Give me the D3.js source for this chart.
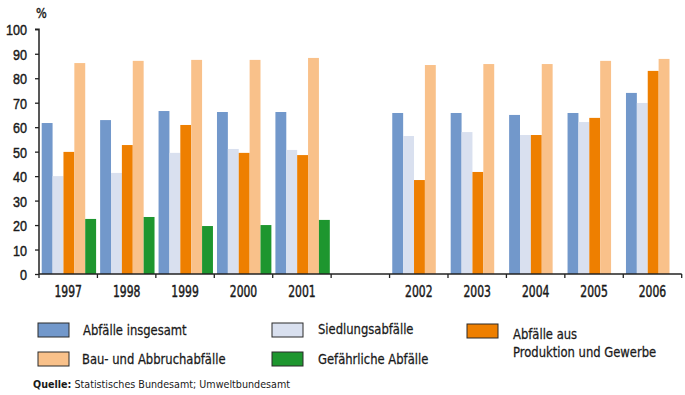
<!DOCTYPE html>
<html>
<head>
<meta charset="utf-8">
<script src="https://cdn.jsdelivr.net/npm/d3@7"></script>
<style>
  html, body { margin: 0; padding: 0; background: #fff; }
  svg { display: block; font-family: "Liberation Sans Narrow", "DejaVu Sans Condensed", "Roboto Condensed", sans-serif; }
</style>
</head>
<body>
<svg id="chart" width="685" height="395"></svg>
<script>
// Verwertungsquoten nach Abfallart, in Prozent
const years = ["1997", "1998", "1999", "2000", "2001", "2002", "2003", "2004", "2005", "2006"];
const slots = ["1997", "1998", "1999", "2000", "2001", "gap", "2002", "2003", "2004", "2005", "2006"];
const seriesNames = ["Abfälle insgesamt", "Siedlungsabfälle", "Abfälle aus Produktion und Gewerbe", "Bau- und Abbruchabfälle", "Gefährliche Abfälle"];
const seriesColors = ["#7298cb", "#d9e0ef", "#ee7f00", "#f9c18a", "#1e962f"];

const insgesamt   = [61.7, 62.9, 66.6, 66.2, 66.2, 65.8, 65.8, 65.0, 65.8, 74.0];
const siedlung    = [40.0, 41.3, 49.5, 51.1, 50.7, 56.4, 58.0, 56.8, 62.1, 69.9];
const produktion  = [49.9, 52.7, 60.9, 49.5, 48.6, 38.4, 41.7, 56.8, 63.8, 83.0];
const bau         = [86.2, 87.1, 87.5, 87.5, 88.3, 85.4, 85.8, 85.8, 87.1, 87.9];
const gefaehrlich = [22.5, 23.3, 19.6, 20.0, 22.1, null, null, null, null, null];
const seriesValues = [insgesamt, siedlung, produktion, bau, gefaehrlich];

const yTicks = [0, 10, 20, 30, 40, 50, 60, 70, 80, 90, 100];

const svg = d3.select("#chart");
const textColor = "#1a1a1a";
const axisColor = "#222";

// narrow text: horizontally compressed real text
function label(g, x, y, str, opt = {}) {
  const t = g.append("text")
    .attr("transform", `translate(${x},${y}) scale(${opt.sx || 1},1)`)
    .attr("fill", textColor)
    .attr("font-size", opt.size || 14)
    .attr("text-anchor", opt.anchor || "start");
  if (opt.heavy) t.attr("stroke", textColor).attr("stroke-width", opt.heavy);
  if (str != null) t.text(str);
  return t;
}

const x = d3.scaleBand().domain(slots).range([39, 681.7]).padding(0);
const inner = d3.scaleBand().domain(d3.range(seriesNames.length))
  .range([2.7, 57.1]).padding(0);
const y = d3.scaleLinear().domain([0, 100]).range([274, 29.3]);

// bars
const bars = [];
seriesValues.forEach((vals, si) => {
  vals.forEach((v, yi) => {
    if (v != null) bars.push({ year: years[yi], s: si, v });
  });
});
svg.append("g").selectAll("rect").data(bars).join("rect")
  .attr("x", d => x(d.year) + inner(d.s))
  .attr("width", inner.bandwidth())
  .attr("y", d => y(d.v))
  .attr("height", d => y(0) - y(d.v))
  .attr("fill", d => seriesColors[d.s]);

// y axis
const yAxis = svg.append("g").attr("transform", "translate(39,0)")
  .call(d3.axisLeft(y).tickValues(yTicks).tickSize(4).tickPadding(8));
yAxis.select(".domain").attr("stroke", axisColor).attr("stroke-width", 1.5)
  .attr("d", `M-4,${y(100)}H0V${y(0)}`);
yAxis.selectAll(".tick line").attr("stroke", axisColor).attr("stroke-width", 1.3);
yAxis.selectAll(".tick text").remove();
yAxis.selectAll(".tick").each(function (d) {
  label(d3.select(this), -12, 5.5, d, { size: 15, sx: 0.84, anchor: "end", heavy: 0.45 });
});

// x axis: line with ticks at slot boundaries, year labels centered
const xg = svg.append("g");
xg.append("line").attr("x1", 39).attr("x2", 681.7).attr("y1", y(0)).attr("y2", y(0))
  .attr("stroke", axisColor).attr("stroke-width", 1.5);
const boundaries = slots.map(s => x(s)).concat([x.range()[1]]);
xg.selectAll("line.tk").data(boundaries).join("line").attr("class", "tk")
  .attr("x1", d => d).attr("x2", d => d)
  .attr("y1", y(0)).attr("y2", y(0) + 4)
  .attr("stroke", axisColor).attr("stroke-width", 1.3);
years.forEach(yr => {
  label(xg, x(yr) + x.bandwidth() / 2, 296.5, yr, { size: 15, sx: 0.8, anchor: "middle", heavy: 0.45 });
});

// unit label
label(svg, 36, 18, "%", { size: 14, sx: 0.9, heavy: 0.4 });

// legend
const legend = [
  { s: 0, sx: 38, sy: 323, tx: 83, ty: [335] },
  { s: 3, sx: 38, sy: 352, tx: 82, ty: [364] },
  { s: 1, sx: 272, sy: 323, tx: 318, ty: [334] },
  { s: 4, sx: 272, sy: 352, tx: 318, ty: [364] },
  { s: 2, sx: 467, sy: 324, tx: 513, ty: [339, 357], lines: ["Abfälle aus", "Produktion und Gewerbe"] }
];
const lg = svg.append("g");
legend.forEach(d => {
  lg.append("rect").attr("x", d.sx).attr("y", d.sy).attr("width", 31).attr("height", 14)
    .attr("fill", seriesColors[d.s]).attr("stroke", "#2a2a2a").attr("stroke-width", 1);
  const lines = d.lines || [seriesNames[d.s]];
  lines.forEach((t, i) => {
    label(lg, d.tx, d.ty[i], t, { size: 14, sx: 0.92, heavy: 0.25 });
  });
});

// source line
const src = label(svg, 33, 388, null, { size: 11, sx: 0.97 });
src.append("tspan").attr("font-weight", "bold").text("Quelle:");
src.append("tspan").text(" Statistisches Bundesamt; Umweltbundesamt");
</script>
</body>
</html>
